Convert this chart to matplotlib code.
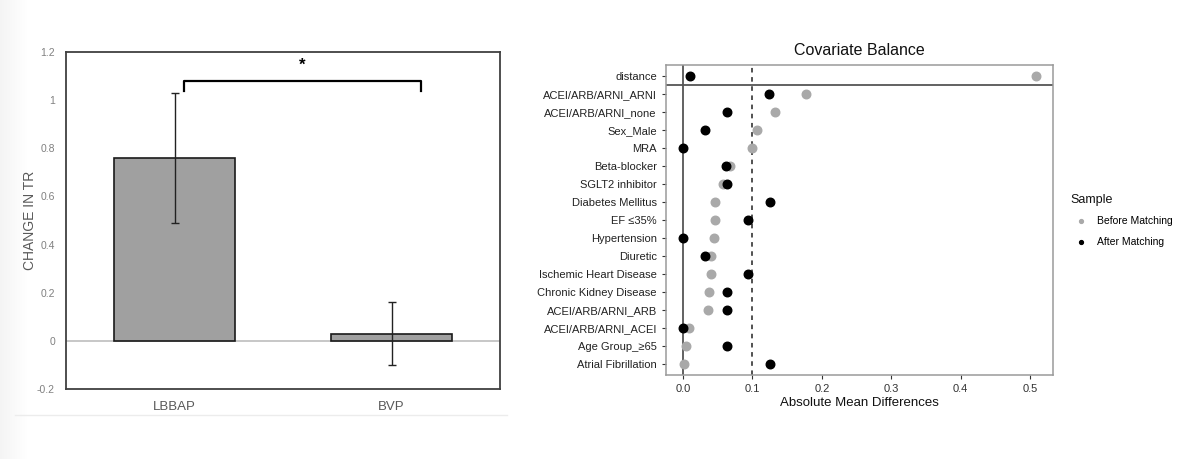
import matplotlib
matplotlib.use("Agg")
import matplotlib.pyplot as plt
import numpy as np

plt.rcParams["font.family"] = ["Liberation Sans", "DejaVu Sans"]

# left panel data
groups = ["LBBAP", "BVP"]
change_tr = [0.76, 0.03]
err_low = [0.49, -0.10]
err_high = [1.03, 0.16]
left_yticks = [-0.2, 0, 0.2, 0.4, 0.6, 0.8, 1, 1.2]
left_ytick_labels = ["-0.2", "0", "0.2", "0.4", "0.6", "0.8", "1", "1.2"]

# right panel data (top to bottom)
covariates = ["distance", "ACEI/ARB/ARNI_ARNI", "ACEI/ARB/ARNI_none", "Sex_Male", "MRA",
              "Beta-blocker", "SGLT2 inhibitor", "Diabetes Mellitus", "EF \u226435%",
              "Hypertension", "Diuretic", "Ischemic Heart Disease", "Chronic Kidney Disease",
              "ACEI/ARB/ARNI_ARB", "ACEI/ARB/ARNI_ACEI", "Age Group_\u226565", "Atrial Fibrillation"]
before = [0.508, 0.177, 0.132, 0.107, 0.099, 0.067, 0.058, 0.046, 0.046, 0.045,
          0.041, 0.040, 0.038, 0.036, 0.009, 0.004, 0.001]
after = [0.010, 0.124, 0.063, 0.031, 0.0, 0.062, 0.063, 0.125, 0.094, 0.0,
         0.031, 0.093, 0.063, 0.063, 0.0, 0.063, 0.125]
xticks_right = [0.0, 0.1, 0.2, 0.3, 0.4, 0.5]

W, H = 1200, 459
fig = plt.figure(figsize=(12, 4.59), dpi=100)
fig.patch.set_facecolor("white")

# faint grey gradient on the far left edge
bg = fig.add_axes([0, 0, 28 / W, 1])
grad = np.linspace(0, 1, 100).reshape(1, -1)
bg.imshow(grad, aspect="auto", cmap="Greys_r", vmin=-10, vmax=1, extent=[0, 1, 0, 1])
bg.axis("off")

# ---------------- left: bar chart ----------------
ax1 = fig.add_axes([66 / W, 1 - 389 / H, 434 / W, 337 / H])
x = np.arange(len(groups))
ax1.bar(x, change_tr, width=0.56, color="#a0a0a0", edgecolor="#1a1a1a", linewidth=1.2, zorder=2)
yerr = [np.array(change_tr) - np.array(err_low), np.array(err_high) - np.array(change_tr)]
ax1.errorbar(x, change_tr, yerr=yerr, fmt="none", ecolor="#222222", elinewidth=1,
             capsize=3, capthick=1, zorder=3)
ax1.axhline(0, color="#bdbdbd", linewidth=1.2, zorder=1)
ax1.set_xlim(-0.5, 1.5)
ax1.set_ylim(-0.2, 1.2)
ax1.set_yticks(left_yticks)
ax1.set_yticklabels(left_ytick_labels, fontsize=7.5, color="#808080")
ax1.set_xticks(x)
ax1.set_xticklabels(groups, fontsize=9.5, color="#595959")
ax1.tick_params(axis="y", length=0, pad=8)
ax1.tick_params(axis="x", length=0, pad=9)
for s in ax1.spines.values():
    s.set_color("#404040")
    s.set_linewidth(1.3)
ax1.set_ylabel("CHANGE IN TR", fontsize=10, color="#595959")
ax1.yaxis.set_label_coords(-0.066, 0.5)
# significance bracket
ax1.plot([0.045, 0.045, 1.135, 1.135], [1.037, 1.08, 1.08, 1.037], color="black", linewidth=1.6)
ax1.text(0.59, 1.145, "*", ha="center", va="center", fontsize=12, fontweight="bold")

# faint separator line under the left panel
fig.add_artist(plt.Line2D([15 / W, 507 / W], [1 - 415 / H, 1 - 415 / H], color="#ececec", linewidth=1))

# ---------------- right: covariate balance ----------------
ax2 = fig.add_axes([666 / W, 1 - 375 / H, 387 / W, 310 / H])
n = len(covariates)
ypos = np.arange(n, 0, -1)
ax2.axvline(0, color="#555555", linewidth=1.3, zorder=1)
ax2.axvline(0.1, color="#222222", linewidth=1.1, linestyle=(0, (3, 3)), zorder=1)
ax2.axhline(n - 0.5, color="#555555", linewidth=1.3, zorder=1)
ax2.scatter(before, ypos, s=38, color="#a9a9a9", zorder=2, label="Before Matching")
ax2.scatter(after, ypos, s=38, color="black", zorder=3, label="After Matching")
ax2.set_xlim(-0.0245, 0.533)
ax2.set_ylim(0.4, n + 0.6)
ax2.set_yticks(ypos)
ax2.set_yticklabels(covariates, fontsize=8, color="#222222")
ax2.set_xticks(xticks_right)
ax2.set_xticklabels([f"{v:.1f}" for v in xticks_right], fontsize=8, color="#333333")
ax2.tick_params(length=3, color="#333333", width=0.8)
for s in ax2.spines.values():
    s.set_color("#9a9a9a")
    s.set_linewidth(1.1)
ax2.set_xlabel("Absolute Mean Differences", fontsize=9.5, color="#111111", labelpad=2)
ax2.set_title("Covariate Balance", fontsize=11.5, color="#111111", pad=7)

leg = ax2.legend(loc="upper left", bbox_to_anchor=(1.022, 0.615), frameon=False,
                 title="Sample", fontsize=7.5, title_fontsize=9, markerscale=0.45,
                 handletextpad=0.5, labelspacing=1.0, alignment="left")
leg.get_title().set_color("#111111")

fig.savefig("out.png", dpi=100, facecolor="white")
